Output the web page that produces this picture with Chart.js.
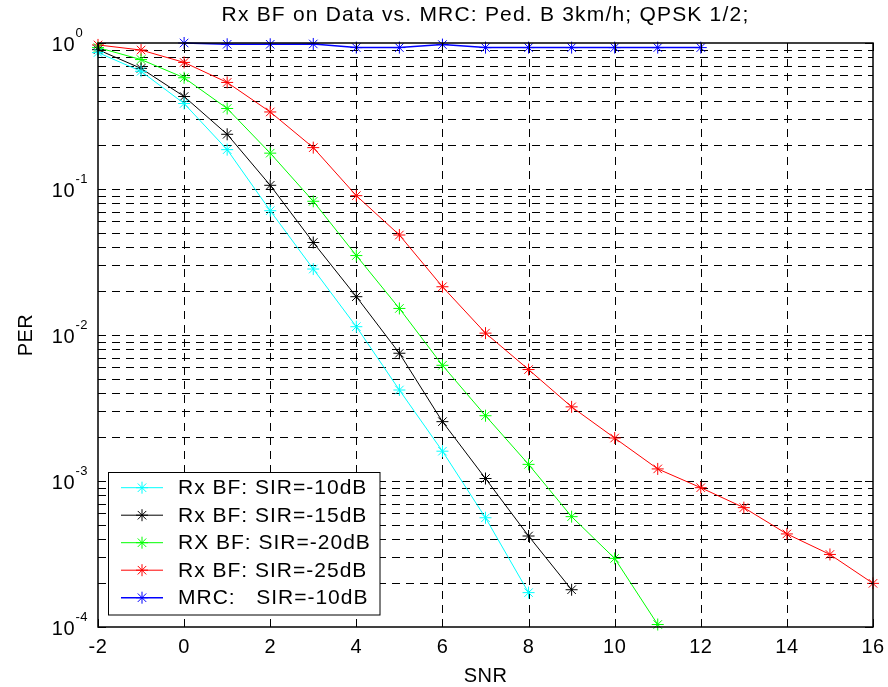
<!DOCTYPE html>
<html>
<head>
<meta charset="utf-8">
<script src="https://cdn.jsdelivr.net/npm/chart.js@4"></script>
<style>
html,body{margin:0;padding:0;background:#fff;}
canvas{display:block;}
</style>
</head>
<body>
<canvas id="c" width="888" height="687"></canvas>
<script>
// ---- data ----
const chartTitle = "Rx BF on Data vs. MRC: Ped. B 3km/h; QPSK 1/2;";
const xLabel = "SNR";
const yLabel = "PER";
const xTickValues = [-2, 0, 2, 4, 6, 8, 10, 12, 14, 16];
const yTickExponents = [0, -1, -2, -3, -4];

const seriesNames = [
  "Rx BF: SIR=-10dB",
  "Rx BF: SIR=-15dB",
  "RX BF: SIR=-20dB",
  "Rx BF: SIR=-25dB",
  "MRC:   SIR=-10dB"
];
const seriesColors = ["#00ffff", "#000000", "#00ff00", "#ff0000", "#0000ff"];

const snrRx10 = [-2, -1, 0, 1, 2, 3, 4, 5, 6, 7, 8];
const perRx10 = [0.86, 0.64, 0.385, 0.186, 0.071, 0.0283, 0.0114, 0.0042, 0.0016, 0.00056, 0.000172];

const snrRx15 = [-2, -1, 0, 1, 2, 3, 4, 5, 6, 7, 8, 9];
const perRx15 = [0.9, 0.67, 0.43, 0.237, 0.106, 0.043, 0.0183, 0.0075, 0.00255, 0.00104, 0.00042, 0.00018];

const snrRx20 = [-2, -1, 0, 1, 2, 3, 4, 5, 6, 7, 8, 9, 10, 11];
const perRx20 = [0.93, 0.77, 0.578, 0.356, 0.176, 0.0824, 0.035, 0.0152, 0.0062, 0.0028, 0.0013, 0.00057, 0.000295, 0.000104];

const snrRx25 = [-2, -1, 0, 1, 2, 3, 4, 5, 6, 7, 8, 9, 10, 11, 12, 13, 14, 15, 16];
const perRx25 = [0.97, 0.895, 0.736, 0.537, 0.337, 0.192, 0.09, 0.0484, 0.0214, 0.0103, 0.0058, 0.00322, 0.00197, 0.00121, 0.0009, 0.000657, 0.000434, 0.000314, 0.000199];

const snrMrc10 = [0, 1, 2, 3, 4, 5, 6, 7, 8, 9, 10, 11, 12];
const perMrc10 = [1.0, 0.98, 0.98, 0.985, 0.93, 0.93, 0.975, 0.93, 0.93, 0.93, 0.93, 0.93, 0.93];

const snrSets = [snrRx10, snrRx15, snrRx20, snrRx25, snrMrc10];
const perSets = [perRx10, perRx15, perRx20, perRx25, perMrc10];

// ---- build ----
const FONT = '"Liberation Sans", Arial, Helvetica, sans-serif';
const lineWidths = [1, 1, 1, 1, 1.5];

const datasets = seriesNames.map((name, i) => ({
  label: name,
  data: snrSets[i].map((s, k) => ({x: s, y: perSets[i][k]})),
  borderColor: seriesColors[i],
  backgroundColor: seriesColors[i],
  borderWidth: lineWidths[i],
  pointStyle: 'star',
  pointRadius: 6,
  pointBorderWidth: 1,
  pointBorderColor: seriesColors[i],
  pointBackgroundColor: seriesColors[i],
  tension: 0,
  clip: false,
  fill: false
}));

function drawStar(ctx, cx, cy, r, color) {
  ctx.save();
  ctx.strokeStyle = color;
  ctx.lineWidth = 1;
  ctx.setLineDash([]);
  ctx.beginPath();
  ctx.moveTo(cx - r, cy); ctx.lineTo(cx + r, cy);
  ctx.moveTo(cx, cy - r); ctx.lineTo(cx, cy + r);
  const d = r * Math.SQRT1_2;
  ctx.moveTo(cx - d, cy - d); ctx.lineTo(cx + d, cy + d);
  ctx.moveTo(cx - d, cy + d); ctx.lineTo(cx + d, cy - d);
  ctx.stroke();
  ctx.restore();
}

function spacing(ctx, v) { if ('letterSpacing' in ctx) ctx.letterSpacing = v; }

const deco = {
  id: 'deco',
  beforeDatasetsDraw(chart) {
    const {ctx, chartArea: a, scales: {x, y}} = chart;
    ctx.save();
    ctx.strokeStyle = '#000';
    ctx.lineWidth = 1;
    ctx.setLineDash([8, 6]);
    for (let e = -4; e <= 0; e++) {
      for (let m = 1; m <= 9; m++) {
        const v = m * Math.pow(10, e);
        if (v > 1 + 1e-9 || v < 1e-4 - 1e-12) continue;
        const py = Math.round(y.getPixelForValue(v)) + 0.5;
        if (py <= a.top + 1 || py >= a.bottom - 1) continue;
        ctx.beginPath();
        ctx.moveTo(a.left, py);
        ctx.lineTo(a.right, py);
        ctx.stroke();
      }
    }
    xTickValues.forEach(v => {
      const px = Math.round(x.getPixelForValue(v)) + 0.5;
      if (px <= a.left + 1 || px >= a.right - 1) return;
      ctx.beginPath();
      ctx.moveTo(px, a.bottom);
      ctx.lineTo(px, a.top);
      ctx.stroke();
    });
    ctx.restore();
  },
  afterDraw(chart) {
    const {ctx, chartArea: a, scales: {x, y}} = chart;
    ctx.save();
    ctx.setLineDash([]);
    ctx.strokeStyle = '#000';
    ctx.lineWidth = 1;
    for (let e = -4; e <= 0; e++) {
      for (let m = 1; m <= 9; m++) {
        const v = m * Math.pow(10, e);
        if (v > 1 + 1e-9 || v < 1e-4 - 1e-12) continue;
        const py = Math.round(y.getPixelForValue(v)) + 0.5;
        const len = (m === 1) ? 8 : 4;
        ctx.beginPath();
        ctx.moveTo(a.left, py); ctx.lineTo(a.left + len, py);
        ctx.moveTo(a.right, py); ctx.lineTo(a.right - len, py);
        ctx.stroke();
      }
    }
    xTickValues.forEach(v => {
      const px = Math.round(x.getPixelForValue(v)) + 0.5;
      ctx.beginPath();
      ctx.moveTo(px, a.bottom); ctx.lineTo(px, a.bottom - 8);
      ctx.moveTo(px, a.top); ctx.lineTo(px, a.top + 8);
      ctx.stroke();
    });
    ctx.lineWidth = 1.5;
    ctx.strokeRect(a.left, a.top, a.right - a.left, a.bottom - a.top);

    ctx.fillStyle = '#000';
    ctx.font = '20px ' + FONT;
    ctx.textAlign = 'center';
    ctx.textBaseline = 'alphabetic';
    spacing(ctx, '0.5px');
    xTickValues.forEach(v => {
      ctx.fillText(String(v), x.getPixelForValue(v), a.bottom + 26);
    });
    yTickExponents.forEach(e => {
      const py = y.getPixelForValue(Math.pow(10, e));
      ctx.font = '20px ' + FONT;
      ctx.textAlign = 'right';
      ctx.fillText('10', 75, py + 7.5);
      ctx.font = '13px ' + FONT;
      ctx.textAlign = 'left';
      ctx.fillText(String(e), 75.5, py - 6);
    });
    ctx.font = '20px ' + FONT;
    ctx.textAlign = 'center';
    ctx.fillText(xLabel, (a.left + a.right) / 2, 682);
    ctx.save();
    ctx.translate(31.5, (a.top + a.bottom) / 2);
    ctx.rotate(-Math.PI / 2);
    ctx.fillText(yLabel, 0, 0);
    ctx.restore();
    ctx.save();
    ctx.font = '21px ' + FONT;
    ctx.textAlign = 'center';
    spacing(ctx, '1.2px');
    ctx.fillText(chartTitle, (a.left + a.right) / 2, 21);
    ctx.restore();

    // legend
    const bx = 108.5, by = 472.5, bw = 271.5, bh = 142.5;
    ctx.fillStyle = '#fff';
    ctx.fillRect(bx, by, bw, bh);
    ctx.lineWidth = 1;
    ctx.strokeStyle = '#000';
    ctx.strokeRect(bx, by, bw, bh);
    const rowY = [487.7, 515.2, 542.7, 570.2, 597.7];
    ctx.font = '21px ' + FONT;
    spacing(ctx, '1px');
    ctx.textAlign = 'left';
    ctx.textBaseline = 'middle';
    seriesNames.forEach((name, i) => {
      const ry = rowY[i];
      ctx.strokeStyle = seriesColors[i];
      ctx.lineWidth = lineWidths[i];
      ctx.beginPath();
      ctx.moveTo(121, ry); ctx.lineTo(163, ry);
      ctx.stroke();
      drawStar(ctx, 142, ry, 6, seriesColors[i]);
      ctx.fillStyle = '#000';
      ctx.fillText(name, 178, ry + 1);
    });
    ctx.restore();
  }
};

new Chart(document.getElementById('c'), {
  type: 'line',
  data: { datasets },
  options: {
    responsive: false,
    devicePixelRatio: 1,
    animation: false,
    layout: { padding: { left: 98, right: 15, top: 43, bottom: 60 } },
    plugins: {
      legend: { display: false },
      title: { display: false },
      tooltip: { enabled: false }
    },
    scales: {
      x: {
        type: 'linear', min: -2, max: 16,
        ticks: { display: false, stepSize: 2 },
        grid: { display: false, drawTicks: false },
        border: { display: false }
      },
      y: {
        type: 'logarithmic', min: 1e-4, max: 1,
        ticks: { display: false },
        grid: { display: false, drawTicks: false },
        border: { display: false }
      }
    }
  },
  plugins: [deco]
});
</script>
</body>
</html>
